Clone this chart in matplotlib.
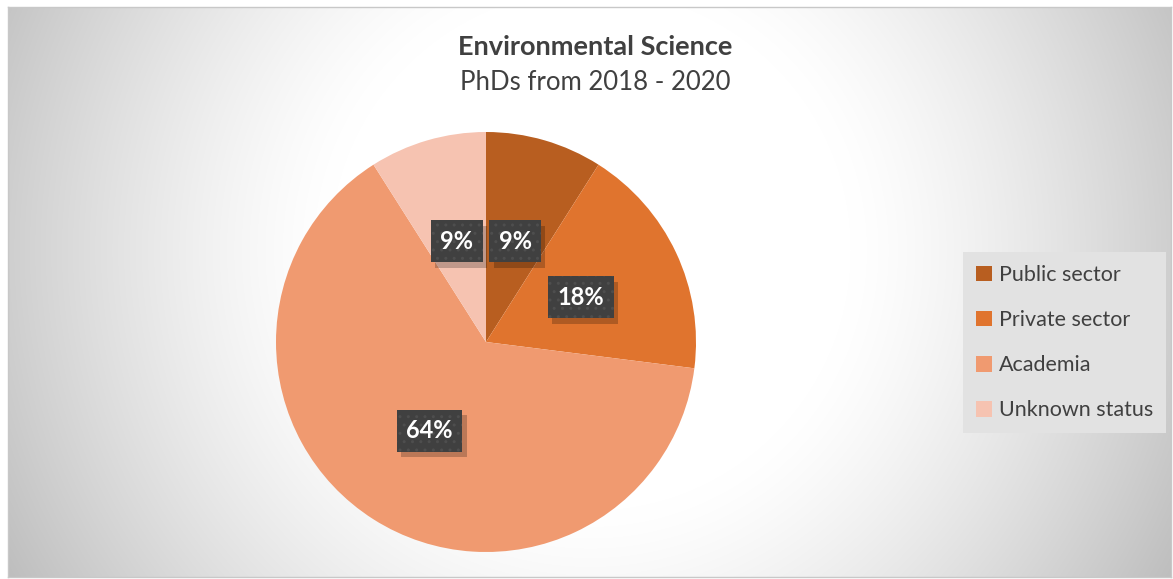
import numpy as np
import matplotlib
matplotlib.use("Agg")
import matplotlib.pyplot as plt
import matplotlib.patheffects as pe

plt.rcParams['font.family'] = ['Lato', 'DejaVu Sans']

# data
categories = ["Public sector", "Private sector", "Academia", "Unknown status"]
shares = [9, 18, 64, 9]
colors = ["#B85E20", "#E0742E", "#F09A70", "#F6C3B1"]
title = "Environmental Science"
subtitle = "PhDs from 2018 - 2020"


class PlainShadow(pe.SimplePatchShadow):
    # shadow without the hatch texture of the label box
    def draw_path(self, renderer, gc, tpath, affine, rgbFace):
        gc0 = renderer.new_gc()
        gc0.copy_properties(gc)
        gc0.set_hatch(None)
        super().draw_path(renderer, gc0, tpath, affine, rgbFace)
        gc0.restore()


W, H = 1173, 579
fig = plt.figure(figsize=(W / 100, H / 100), dpi=100)
fig.patch.set_facecolor("white")

# chart area with radial gradient background
x0, y0, x1, y1 = 8, 7, 1171, 577
bg = fig.add_axes([x0 / W, 1 - y1 / H, (x1 - x0) / W, (y1 - y0) / H])
xx, yy = np.meshgrid(np.arange(x0, x1), np.arange(y0, y1))
d = np.hypot(xx - 590, yy - 250)
t = np.clip((d - 260) / (680 - 260), 0, 1)
g = (255 - 68 * t ** 1.3) / 255
bg.imshow(np.dstack([g, g, g]), aspect="auto", extent=[0, 1, 0, 1])
bg.set_xlim(0, 1)
bg.set_ylim(0, 1)
bg.set_xticks([])
bg.set_yticks([])
for s in bg.spines.values():
    s.set_color("#c8c8c8")
    s.set_linewidth(1)

# pie
cx, cy, r = 486, 342, 210
ax = fig.add_axes([(cx - r) / W, (H - cy - r) / H, 2 * r / W, 2 * r / H])
ax.patch.set_alpha(0)
wedges, texts, autotexts = ax.pie(
    shares, colors=colors, startangle=90, counterclock=False,
    autopct=lambda p: f"{p:.0f}%", pctdistance=0.5, radius=1,
    wedgeprops=dict(linewidth=0))
ax.set_xlim(-1, 1)
ax.set_ylim(-1, 1)
ax.set_aspect("equal")

for at in autotexts:
    at.set_fontsize(17)
    at.set_fontweight("bold")
    at.set_color("white")
    at.set_zorder(5)
    at.set_bbox(dict(boxstyle="square,pad=0.4", facecolor="#404040",
                     edgecolor="#4e4e4e", linewidth=0, hatch=".."))
    at.get_bbox_patch().set_path_effects([
        PlainShadow(offset=(3, -4), shadow_rgbFace="black", alpha=0.22),
        pe.Normal()])

# titles
fig.text(595 / W, 1 - 47 / H, title, ha="center", va="center",
         fontsize=19.5, fontweight="bold", color="#404040")
fig.text(595 / W, 1 - 82 / H, subtitle, ha="center", va="center",
         fontsize=18.5, color="#404040")

# legend
leg = fig.legend(wedges, categories, loc="upper left",
                 bbox_to_anchor=(963 / W, 1 - 252 / H),
                 frameon=True, fontsize=15.5, labelcolor="#404040",
                 handlelength=0.75, handleheight=0.75, handletextpad=0.3,
                 labelspacing=1.17, borderpad=0.6, fancybox=False,
                 borderaxespad=0)
leg.get_frame().set_facecolor("#e2e2e2")
leg.get_frame().set_edgecolor("none")
leg.get_frame().set_alpha(1)

fig.savefig("out.png", dpi=100)
